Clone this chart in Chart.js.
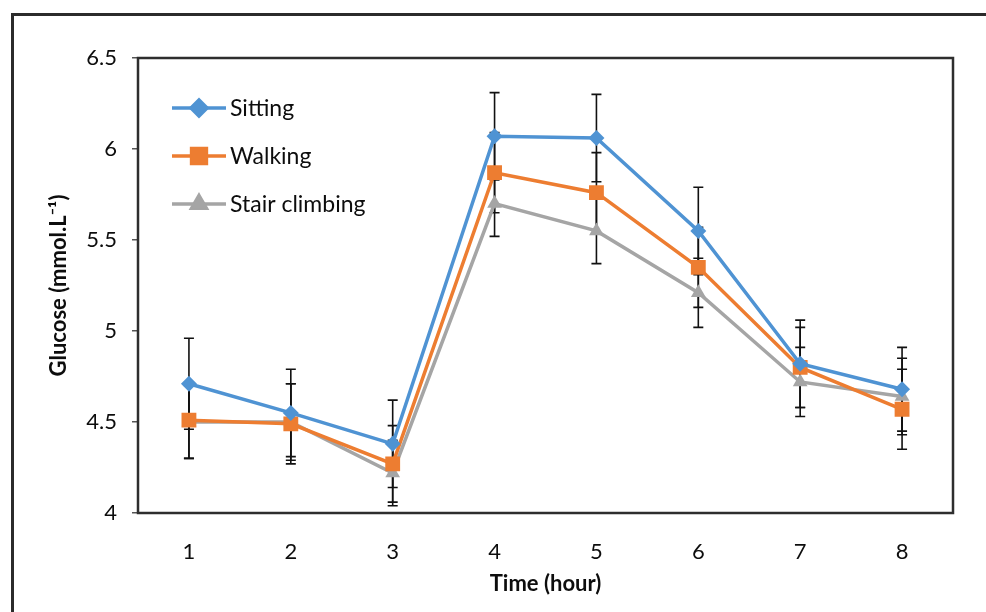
<!DOCTYPE html>
<html>
<head>
<meta charset="utf-8">
<script src="https://cdn.jsdelivr.net/npm/chart.js@4"></script>
<style>
  html, body { margin: 0; padding: 0; background: #fff; overflow: hidden; }
  #wrap { position: relative; width: 986px; height: 612px; }
  #frame { position: absolute; left: 11px; top: 13px; width: 1000px; height: 700px;
           border-left: 3px solid #2b2b2b; border-top: 3px solid #2b2b2b; pointer-events: none; }
  canvas { position: absolute; left: 0; top: 0; }
</style>
</head>
<body>
<div id="wrap">
  <canvas id="chart" width="986" height="612"></canvas>
  <div id="frame"></div>
</div>
<script>
// hours on the x axis
const hours = ["1", "2", "3", "4", "5", "6", "7", "8"];

// mean glucose (mmol.L-1) per condition
const sitting = [4.71, 4.55, 4.38, 6.07, 6.06, 5.55, 4.82, 4.68];
const walking = [4.51, 4.49, 4.27, 5.87, 5.76, 5.35, 4.80, 4.57];
const stairClimbing = [4.50, 4.50, 4.22, 5.70, 5.55, 5.21, 4.72, 4.64];

// error bar half-widths (same units)
const sittingErr = [0.25, 0.24, 0.24, 0.24, 0.24, 0.24, 0.24, 0.23];
const walkingErr = [0.21, 0.22, 0.21, 0.22, 0.22, 0.22, 0.22, 0.22];
const stairErr = [0.20, 0.21, 0.18, 0.18, 0.18, 0.19, 0.19, 0.21];

const yTicks = [4, 4.5, 5, 5.5, 6, 6.5];

const FONT = "Lato, 'Open Sans', sans-serif";
const TEXT = "#0d0d0d";

// draws vertical error bars using the y scale
const errorBars = {
  id: "errorBars",
  beforeDatasetsDraw(chart) {
    const { ctx, scales } = chart;
    ctx.save();
    ctx.strokeStyle = "#111";
    ctx.lineWidth = 1.6;
    chart.data.datasets.forEach((ds, i) => {
      const meta = chart.getDatasetMeta(i);
      meta.data.forEach((pt, j) => {
        const v = ds.data[j];
        const e = ds.errors[j];
        const top = scales.y.getPixelForValue(v + e);
        const bot = scales.y.getPixelForValue(v - e);
        const x = pt.x;
        ctx.beginPath();
        ctx.moveTo(x, top); ctx.lineTo(x, bot);
        ctx.moveTo(x - 5, top); ctx.lineTo(x + 5, top);
        ctx.moveTo(x - 5, bot); ctx.lineTo(x + 5, bot);
        ctx.stroke();
      });
    });
    ctx.restore();
  },
};

// plot box and legend inside the plot area
const boxAndLegend = {
  id: "boxAndLegend",
  afterDraw(chart) {
    const { ctx, chartArea: a } = chart;
    ctx.save();
    ctx.strokeStyle = "#2e2e2e";
    ctx.lineWidth = 2.5;
    ctx.strokeRect(a.left, a.top, a.right - a.left, a.bottom - a.top);

    const x0 = a.left + 34;
    const y0 = a.top + 50;
    chart.data.datasets.forEach((ds, i) => {
      const y = y0 + i * 48;
      ctx.strokeStyle = ds.borderColor;
      ctx.lineWidth = 3.5;
      ctx.beginPath();
      ctx.moveTo(x0, y); ctx.lineTo(x0 + 54, y);
      ctx.stroke();
      Chart.helpers.drawPoint(ctx, {
        pointStyle: ds.pointStyle, radius: ds.pointRadius, borderWidth: 1,
      }, x0 + 27, y);
      ctx.fillStyle = ds.backgroundColor;
      ctx.fill();
      ctx.fillStyle = TEXT;
      ctx.font = "23px " + FONT;
      ctx.textBaseline = "middle";
      ctx.textAlign = "left";
      ctx.fillText(ds.label, x0 + 58, y + 1);
    });
    ctx.restore();
  },
};

const ctx = document.getElementById("chart").getContext("2d");

new Chart(ctx, {
  type: "line",
  data: {
    labels: hours,
    datasets: [
      {
        label: "Sitting", data: sitting, errors: sittingErr,
        borderColor: "#4f93d3", backgroundColor: "#4f93d3",
        pointStyle: "rectRot", pointRadius: 8,
      },
      {
        label: "Walking", data: walking, errors: walkingErr,
        borderColor: "#ed7d31", backgroundColor: "#ed7d31",
        pointStyle: "rect", pointRadius: 10.5,
      },
      {
        label: "Stair climbing", data: stairClimbing, errors: stairErr,
        borderColor: "#a5a5a5", backgroundColor: "#a5a5a5",
        pointStyle: "triangle", pointRadius: 8.5,
      },
    ].map((d) => ({ ...d, borderWidth: 3.5, pointBorderWidth: 0, tension: 0 })),
  },
  options: {
    responsive: false,
    animation: false,
    devicePixelRatio: 1,
    layout: { padding: { left: 40, top: 58, right: 33, bottom: 12 } },
    plugins: { legend: { display: false }, tooltip: { enabled: false } },
    scales: {
      x: {
        offset: true,
        grid: { display: false },
        border: { display: false },
        ticks: { color: TEXT, padding: 18, font: { family: FONT, size: 22 } },
        title: {
          display: true, text: "Time (hour)", color: TEXT,
          font: { family: FONT, size: 22, weight: "bold" }, padding: { top: 0, bottom: 3 },
        },
        afterFit(scale) { scale.height = 87; },
      },
      y: {
        min: 4, max: 6.5,
        afterBuildTicks(scale) { scale.ticks = yTicks.map((v) => ({ value: v })); },
        grid: { drawOnChartArea: false, drawTicks: true, tickLength: 6, color: "#555", lineWidth: 1.5 },
        border: { display: false },
        ticks: {
          color: TEXT, padding: 15, font: { family: FONT, size: 22 },
          callback: (v) => String(v),
        },
        title: {
          display: true, text: "Glucose (mmol.L⁻¹)", color: TEXT,
          font: { family: FONT, size: 22, weight: "bold" }, padding: { top: 6, bottom: 0 },
        },
        afterFit(scale) { scale.width = 98; },
      },
    },
  },
  plugins: [errorBars, boxAndLegend],
});
</script>
</body>
</html>
